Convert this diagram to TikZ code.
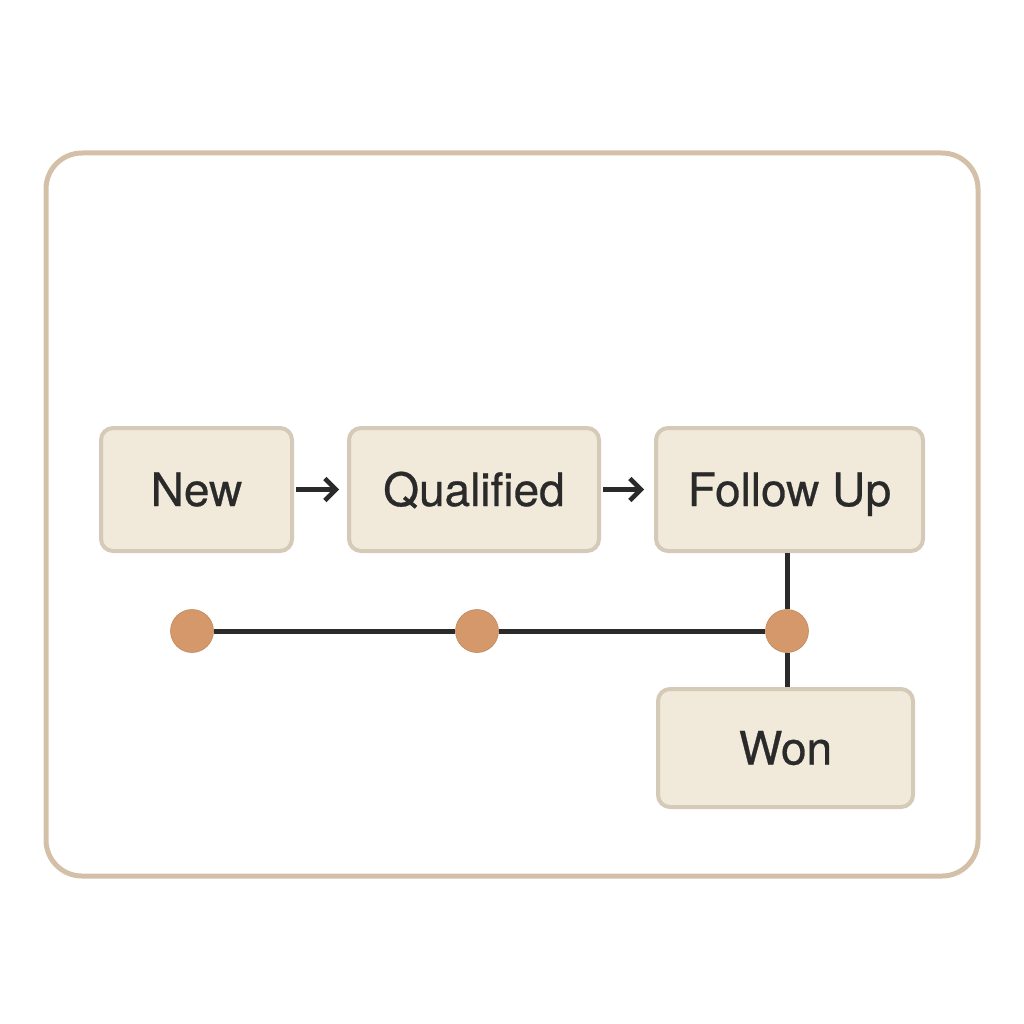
\documentclass[tikz,border=0pt]{standalone}
\usepackage{fontspec}
\setmainfont[FakeBold=0.6]{TeX Gyre Heros}
\usetikzlibrary{arrows.meta}
\definecolor{frame}{HTML}{D4C0A8}
\definecolor{boxfill}{HTML}{F1E9DA}
\definecolor{boxline}{HTML}{D5C9B8}
\definecolor{dotc}{HTML}{D4986A}
\definecolor{ink}{HTML}{2A2A2A}
\begin{document}
\begin{tikzpicture}[x=1pt,y=-1pt,
  stage/.style={draw=boxline,fill=boxfill,line width=4pt,rounded corners=12pt,
    minimum height=123pt,inner sep=0pt,font=\fontsize{46}{54}\selectfont,text=ink,
    text height=38pt,text depth=5pt},
  dot/.style={circle,fill=dotc,draw=dotc!90!black,line width=0.6pt,minimum size=43pt,inner sep=0pt},
  conn/.style={draw=ink,line width=5pt},
  arr/.style={draw=ink,line width=5pt,-{Straight Barb[length=11pt,width=22pt,line width=4.5pt]}}]
\useasboundingbox (0,0) rectangle (1024,1024);
\draw[frame,line width=5pt,rounded corners=36pt] (46,153) rectangle (978,876);
\node[stage,minimum width=191pt] (new) at (196.5,489.5) {New};
\node[stage,minimum width=250pt] (qual) at (474,489.5) {Qualified};
\node[stage,minimum width=267pt] (fu) at (789.5,489.5) {Follow Up};
\node[stage,minimum width=255pt,minimum height=118pt] (won) at (785.5,748) {Won};
\node[dot] (d1) at (192,631) {};
\node[dot] (d2) at (477,631) {};
\node[dot] (d3) at (787,631) {};
\draw[arr] ([xshift=2pt]new.east) -- ([xshift=-8pt]qual.west);
\draw[arr] ([xshift=2pt]qual.east) -- ([xshift=-10pt]fu.west);
\draw[conn] (d1) -- (d2);
\draw[conn] (d2) -- (d3);
\draw[conn] (fu.south -| d3) -- (d3);
\draw[conn] (d3) -- (won.north -| d3);
\end{tikzpicture}
\end{document}
